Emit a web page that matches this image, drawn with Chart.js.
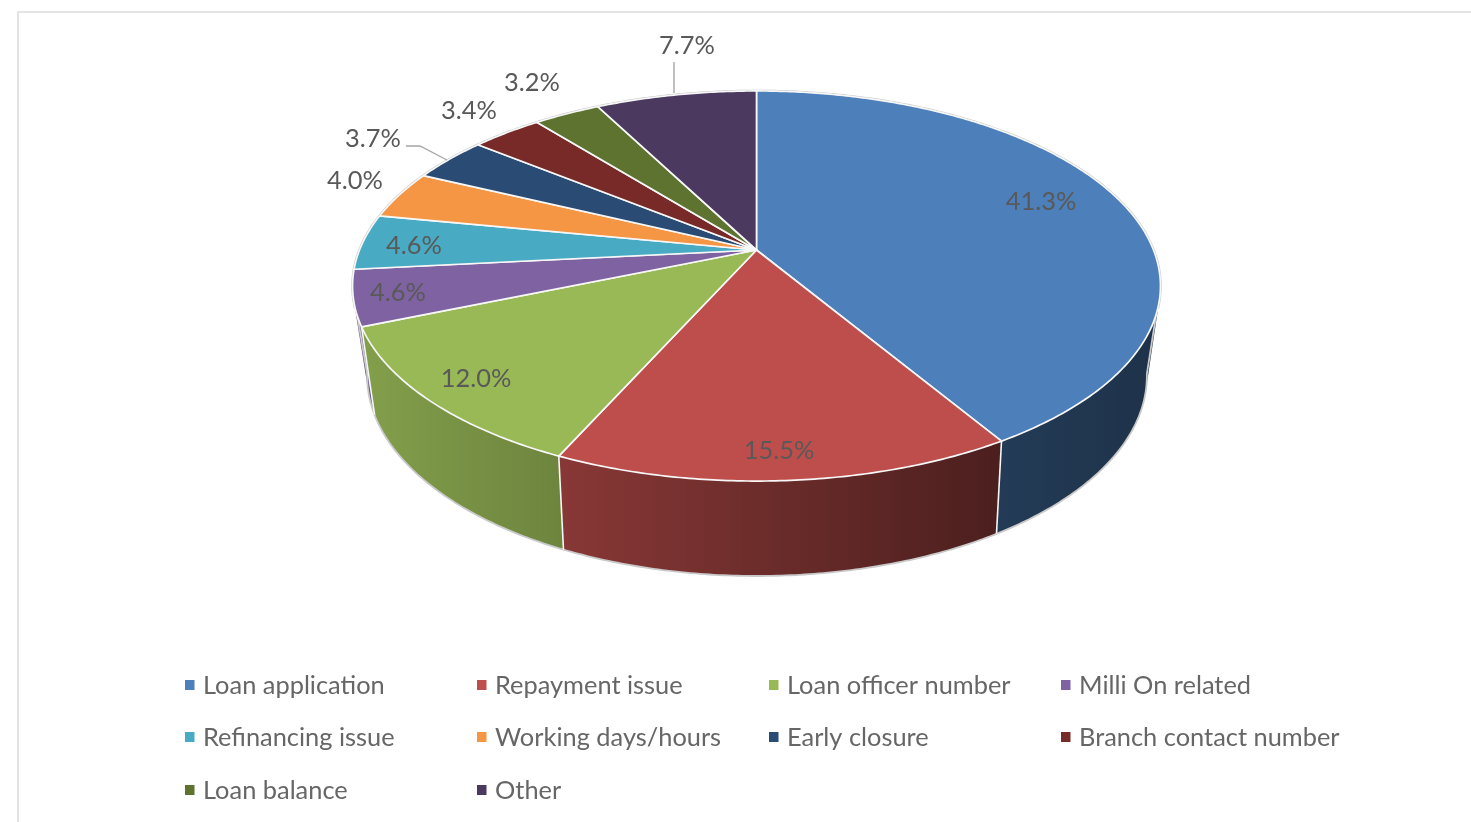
<!DOCTYPE html>
<html><head><meta charset="utf-8">
<style>
html,body{margin:0;padding:0;background:#fff;overflow:hidden}
#wrap{position:absolute;left:0;top:0;width:1471px;height:822px;filter:blur(0.6px)}
#frame{position:absolute;left:17px;top:11px;right:0;bottom:0;border-left:2px solid #e4e4e4;border-top:2px solid #e4e4e4}
canvas{position:absolute;left:0;top:0}
</style>
<script src="https://cdn.jsdelivr.net/npm/chart.js@4"></script>
</head><body>
<div id="wrap"><div id="frame"></div><canvas id="c" width="1471" height="822"></canvas></div>
<script>
const categories = ["Loan application","Repayment issue","Loan officer number","Milli On related","Refinancing issue","Working days/hours","Early closure","Branch contact number","Loan balance","Other"];
const shares = [41.3,15.5,12.0,4.6,4.6,4.0,3.7,3.4,3.2,7.7];
const sliceColors = ["#4d7fbb","#be4e4b","#99b957","#7f62a1","#49aac4","#f49643","#2a4b73","#772a28","#5e732f","#4c395f"];

// Layout (not data)
const FONT = '25.4px Lato, Carlito, sans-serif';
const labelSpots = [[1041,202],[779,451],[476,379],[398,293],[414,246],[355,181],[373,139],[469,111],[532,83],[687,46]];
const leaders = [[[674,62],[674,93]],[[406,146],[420,146],[447,160]]];
const legendCols = [185,477,769,1061], legendRows = [686,738,791];
const legendRowsSwatch = [685,737,790];
const topFace = {cx:756.5, cy:250, a:397, b:188.4, c:-0.1846};
const botFace = {cx:757, cy:336, a:382, b:192, c:-0.2};
const TANGENT = Math.asin(0.19);

function proj(f,ang,r){
  const u=r*Math.cos(ang), v=r*Math.sin(ang), d=1+f.c*v;
  return [f.cx+f.a*u/d, f.cy+f.b*v/d];
}
function arcPts(f,s,e){
  const n=Math.max(2,Math.ceil((e-s)/0.01)),p=[];
  for(let i=0;i<=n;i++)p.push(proj(f,s+(e-s)*i/n,1));
  return p;
}
function shade(hex,x){
  const k=Math.max(0.39,Math.min(0.88,0.85-(x-372)*0.00072));
  const n=parseInt(hex.slice(1),16);
  return `rgb(${Math.round((n>>16)*k)},${Math.round(((n>>8)&255)*k)},${Math.round((n&255)*k)})`;
}
function trace(ctx,pts){ctx.beginPath();pts.forEach((p,i)=>i?ctx.lineTo(p[0],p[1]):ctx.moveTo(p[0],p[1]));}
function area(q){let s=0;q.forEach((p,i)=>{const n=q[(i+1)%q.length];s+=p[0]*n[1]-n[0]*p[1];});return s;}

const pie3d = {
  id:'pie3d',
  beforeDatasetDraw(chart,args){
    const ctx=chart.ctx, arcs=chart.getDatasetMeta(args.index).data;
    ctx.save();
    ctx.lineJoin='round';
    // sides, back to front; one path of same-wound strips per slice, so the outline follows the cylinder's silhouette
    const order=arcs.map((el,i)=>i).sort((i,j)=>{
      const m=k=>Math.sin((arcs[k].startAngle+arcs[k].endAngle)/2);return m(i)-m(j);});
    const sideEdges=[];
    order.forEach(i=>{
      const el=arcs[i], t=arcPts(topFace,el.startAngle,el.endAngle), b=arcPts(botFace,el.startAngle,el.endAngle);
      const xs=t.concat(b).map(p=>p[0]), x0=Math.min(...xs), x1=Math.max(...xs);
      const g=ctx.createLinearGradient(x0,0,x1,0);
      g.addColorStop(0,shade(sliceColors[i],x0));g.addColorStop(1,shade(sliceColors[i],x1));
      ctx.beginPath();
      for(let k=0;k<t.length-1;k++){
        let q=[t[k],t[k+1],b[k+1],b[k]];
        if(area(q)<0)q=q.reverse();
        q.forEach((p,m)=>m?ctx.lineTo(p[0],p[1]):ctx.moveTo(p[0],p[1]));
        ctx.closePath();
      }
      ctx.fillStyle=g;ctx.fill('nonzero');
      sideEdges.push([t[0],b[0]]);
    });
    // outer rim of the base, joined to the top along the silhouette
    const rim=[proj(topFace,TANGENT,1)].concat(arcPts(botFace,TANGENT,Math.PI-TANGENT),[proj(topFace,Math.PI-TANGENT,1)]);
    trace(ctx,rim);
    ctx.strokeStyle='#c9c9c9';ctx.lineWidth=1.8;ctx.stroke();
    // white edges between side panels on the front
    ctx.strokeStyle='#f6f6f6';ctx.lineWidth=1.6;
    sideEdges.forEach(e=>{ if(e[1][1]>400){trace(ctx,e);ctx.stroke();} });
    // back rim of the top
    trace(ctx,arcPts(topFace,Math.PI-0.3,2*Math.PI+0.3));
    ctx.strokeStyle='#c4c4c4';ctx.lineWidth=2.6;ctx.stroke();
    // top faces
    arcs.forEach((el,i)=>{
      const pts=[[topFace.cx,topFace.cy]].concat(arcPts(topFace,el.startAngle,el.endAngle));
      trace(ctx,pts);ctx.closePath();
      ctx.fillStyle=sliceColors[i];ctx.fill();
      ctx.strokeStyle='#f7f7f7';ctx.lineWidth=1.7;ctx.stroke();
    });
    ctx.restore();
    return false;
  },
  afterDraw(chart){
    const ctx=chart.ctx;
    ctx.save();
    ctx.strokeStyle='#a6a6a6';ctx.lineWidth=1.4;
    leaders.forEach(l=>{trace(ctx,l);ctx.stroke();});
    ctx.font=FONT;ctx.textBaseline='middle';ctx.textAlign='center';ctx.fillStyle='#595959';
    shares.forEach((v,i)=>ctx.fillText(v.toFixed(1)+'%',labelSpots[i][0],labelSpots[i][1]));
    ctx.textAlign='left';
    categories.forEach((name,i)=>{
      const x=legendCols[i%4], r=Math.floor(i/4);
      ctx.fillStyle=sliceColors[i];ctx.fillRect(x,legendRowsSwatch[r]-5,9.5,10);
      ctx.fillStyle='#666666';ctx.fillText(name,x+18,legendRows[r]);
    });
    ctx.restore();
  }
};

new Chart(document.getElementById('c'),{
  type:'pie',
  data:{labels:categories,datasets:[{data:shares,backgroundColor:sliceColors,borderColor:'#ffffff'}]},
  options:{
    responsive:false,animation:false,
    plugins:{legend:{display:false},tooltip:{enabled:false}}
  },
  plugins:[pie3d]
});
</script>
</body></html>
